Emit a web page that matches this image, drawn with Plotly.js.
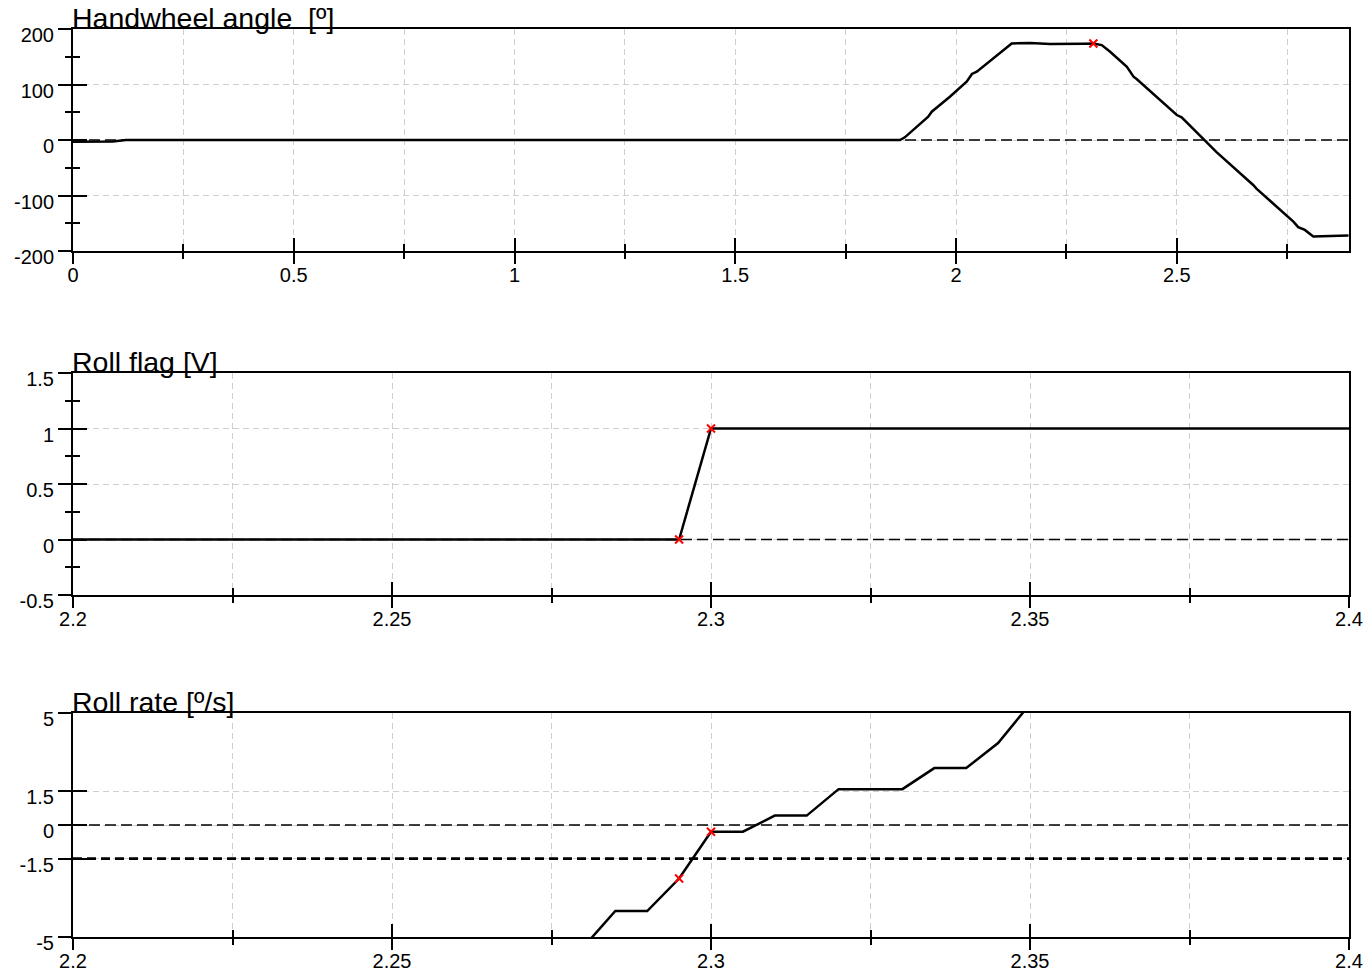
<!DOCTYPE html>
<html>
<head>
<meta charset="utf-8">
<script src="https://cdn.plot.ly/plotly-3.0.1.min.js"></script>
<style>html,body{margin:0;padding:0;background:#fff;}#chart{width:1369px;height:974px;}</style>
</head>
<body>
<div id="chart"></div>
<script>
// ---------- data ----------
const panelTitles = ["Handwheel angle\u00a0\u00a0[º]", "Roll flag [V]", "Roll rate [º/s]"];

const hwTime  = [0, 0.05, 0.09, 0.12, 1.873, 1.884, 1.911, 1.937, 1.945, 1.986, 2.024, 2.036, 2.047, 2.115, 2.126, 2.168, 2.213, 2.288, 2.311, 2.330, 2.349, 2.387, 2.402, 2.409, 2.485, 2.500, 2.511, 2.583, 2.590, 2.673, 2.681, 2.764, 2.775, 2.790, 2.809, 2.889];
const hwAngle = [-3, -3, -2.5, 0, 0, 4.8, 24, 42, 51, 78, 105, 119, 123, 168, 174, 175, 173, 173.5, 174, 171, 159, 132, 114, 110, 57, 45, 41, -15, -22, -81, -88, -147, -157, -162, -174, -172];
const hwMarkTime = [2.311];
const hwMarkAngle = [174];

const flagTime = [2.2, 2.295, 2.3, 2.4];
const flagVolt = [0, 0, 1, 1];
const flagMarkTime = [2.295, 2.3];
const flagMarkVolt = [0, 1];

const rateTime = [2.28, 2.285, 2.29, 2.295, 2.3, 2.305, 2.31, 2.315, 2.32, 2.33, 2.335, 2.34, 2.345, 2.35];
const rateVal  = [-5.45, -3.84, -3.84, -2.39, -0.30, -0.30, 0.42, 0.42, 1.60, 1.60, 2.54, 2.54, 3.66, 5.4];
const rateMarkTime = [2.295, 2.3];
const rateMarkVal  = [-2.39, -0.30];

const hwXRange = [0, 2.89], hwYRange = [-200, 200];
const flagXRange = [2.2, 2.4], flagYRange = [-0.5, 1.5];
const rateXRange = [2.2, 2.4], rateYRange = [-5, 5];
const hwYTicks = [-200, -100, 0, 100, 200];
const flagYTicks = [-0.5, 0, 0.5, 1, 1.5];
const rateYTicks = [-5, -1.5, 0, 1.5, 5];
const thinRefLevels = [[0], [0], [0]];
const thickRefLevels = [[], [], [-1.5]];

// ---------- layout helpers ----------
const W = 1369, H = 974;
const xDom = [73 / W, 1349 / W];
const yDoms = [[1 - 251 / H, 1 - 29 / H], [1 - 595 / H, 1 - 373 / H], [1 - 937 / H, 1 - 713 / H]];
const FONT = {family: "Liberation Sans, Arial, sans-serif", size: 20, color: "#000"};
const GRID = "#cfcfcf";
const hyphen = v => String(v).replace("\u2212", "-");

// primary x axis: labels + inside tick half; overlay x axis: outside tick half
function baseX(range, dtick, mdtick) {
  return {
    range: range, tick0: range[0], dtick: dtick,
    ticks: "inside", ticklen: 13, tickwidth: 2, tickcolor: "#000",
    showline: true, linecolor: "#000", linewidth: 2, mirror: true,
    showgrid: true, gridcolor: GRID, griddash: "6px,4px", gridwidth: 1,
    zeroline: false, tickfont: FONT, ticklabelstandoff: 5,
    minor: {dtick: mdtick, tick0: range[0], ticks: "inside", ticklen: 7, tickwidth: 2, tickcolor: "#000", showgrid: true, gridcolor: GRID, griddash: "6px,4px", gridwidth: 1},
    fixedrange: true
  };
}
function baseY(range, ticks, minorD) {
  const a = {
    range: range, tickmode: "array", tickvals: ticks, ticktext: ticks.map(hyphen),
    ticks: "outside", ticklen: 13, tickwidth: 2, tickcolor: "#000",
    showline: true, linecolor: "#000", linewidth: 2, mirror: true,
    showgrid: true, gridcolor: GRID, griddash: "6px,4px", gridwidth: 1,
    zeroline: false, tickfont: FONT, ticklabelshift: 6, ticklabelstandoff: 0,
    fixedrange: true
  };
  if (minorD) a.minor = {tick0: 0, dtick: minorD, ticks: "outside", ticklen: 6, tickwidth: 2, tickcolor: "#000", showgrid: false};
  return a;
}
function overX(base, over, anchor) {
  const o = {overlaying: over, anchor: anchor, range: base.range, tick0: base.tick0, dtick: base.dtick,
    ticks: "outside", ticklen: 12, tickwidth: 2, tickcolor: "#000", showticklabels: false,
    showline: false, showgrid: false, zeroline: false, fixedrange: true};
  if (base.minor) o.minor = {dtick: base.minor.dtick, tick0: base.minor.tick0, ticks: "outside", ticklen: 7, tickwidth: 2, tickcolor: "#000", showgrid: false};
  return o;
}
function overY(base, over, anchor) {
  const o = {overlaying: over, anchor: anchor, range: base.range, ticks: "inside", ticklen: 14, tickwidth: 2, tickcolor: "#000",
    tickmode: "array", tickvals: base.tickvals,
    showticklabels: false, showline: false, showgrid: false, zeroline: false, fixedrange: true, side: "left"};
  if (base.minor) o.minor = {dtick: base.minor.dtick, tick0: base.minor.tick0, ticks: "inside", ticklen: 7, tickwidth: 2, tickcolor: "#000", showgrid: false};
  return o;
}

const x1 = baseX(hwXRange, 0.5, 0.25);
const y1 = baseY(hwYRange, hwYTicks, 50);
const x2 = baseX(flagXRange, 0.05, 0.025);
const y2 = baseY(flagYRange, flagYTicks, 0.25);
const x3 = baseX(rateXRange, 0.05, 0.025);
const y3 = baseY(rateYRange, rateYTicks, null);

const layout = {
  width: W, height: H, autosize: false,
  margin: {l: 0, r: 0, t: 0, b: 0},
  paper_bgcolor: "#fff", plot_bgcolor: "rgba(0,0,0,0)",
  showlegend: false,
  font: FONT,
  xaxis: Object.assign(x1, {domain: xDom, anchor: "y"}),
  yaxis: Object.assign(y1, {domain: yDoms[0], anchor: "x"}),
  xaxis2: Object.assign(x2, {domain: xDom, anchor: "y2"}),
  yaxis2: Object.assign(y2, {domain: yDoms[1], anchor: "x2"}),
  xaxis3: Object.assign(x3, {domain: xDom, anchor: "y3"}),
  yaxis3: Object.assign(y3, {domain: yDoms[2], anchor: "x3"}),
  xaxis4: overX(x1, "x", "y4"), yaxis4: overY(y1, "y", "x4"),
  xaxis5: overX(x2, "x2", "y5"), yaxis5: overY(y2, "y2", "x5"),
  xaxis6: overX(x3, "x3", "y6"), yaxis6: overY(y3, "y3", "x6"),
  shapes: [],
  annotations: panelTitles.map((t, i) => ({
    text: t, xref: "paper", yref: "paper", x: 71 / W, y: yDoms[i][1] - 6 / H,
    xanchor: "left", yanchor: "bottom", showarrow: false, borderpad: 0,
    font: {family: FONT.family, size: 28.5, color: "#000"}
  }))
};

const yrefs = ["y", "y2", "y3"], xrefs = ["x", "x2", "x3"];
for (let i = 0; i < 3; i++) {
  thinRefLevels[i].forEach(v => layout.shapes.push({type: "line", xref: xrefs[i] + " domain", yref: yrefs[i], x0: 0, x1: 1, y0: v, y1: v,
    line: {color: "#000", width: 1.3, dash: "11px,5px"}}));
  thickRefLevels[i].forEach(v => layout.shapes.push({type: "line", xref: xrefs[i] + " domain", yref: yrefs[i], x0: 0, x1: 1, y0: v, y1: v,
    line: {color: "#000", width: 2.6, dash: "9px,5px"}}));
}

function lineTrace(x, y, xa, ya) {
  return {type: "scatter", mode: "lines", x: x, y: y, xaxis: xa, yaxis: ya, line: {color: "#000", width: 2.5}, hoverinfo: "skip"};
}
function markTrace(x, y, xa, ya) {
  return {type: "scatter", mode: "markers", x: x, y: y, xaxis: xa, yaxis: ya, cliponaxis: false,
    marker: {symbol: "x-thin", size: 8, color: "#ff0000", line: {color: "#ff0000", width: 2}}, hoverinfo: "skip"};
}
function ghost(xr, yr, xa, ya) {
  return {type: "scatter", mode: "markers", x: [xr[0]], y: [yr[0]], xaxis: xa, yaxis: ya, marker: {opacity: 0}, hoverinfo: "skip"};
}

const data = [
  lineTrace(hwTime, hwAngle, "x", "y"), markTrace(hwMarkTime, hwMarkAngle, "x", "y"),
  lineTrace(flagTime, flagVolt, "x2", "y2"), markTrace(flagMarkTime, flagMarkVolt, "x2", "y2"),
  lineTrace(rateTime, rateVal, "x3", "y3"), markTrace(rateMarkTime, rateMarkVal, "x3", "y3"),
  ghost(hwXRange, hwYRange, "x4", "y4"), ghost(flagXRange, flagYRange, "x5", "y5"), ghost(rateXRange, rateYRange, "x6", "y6")
];

Plotly.newPlot("chart", data, layout, {staticPlot: true, displayModeBar: false});
</script>
</body>
</html>
